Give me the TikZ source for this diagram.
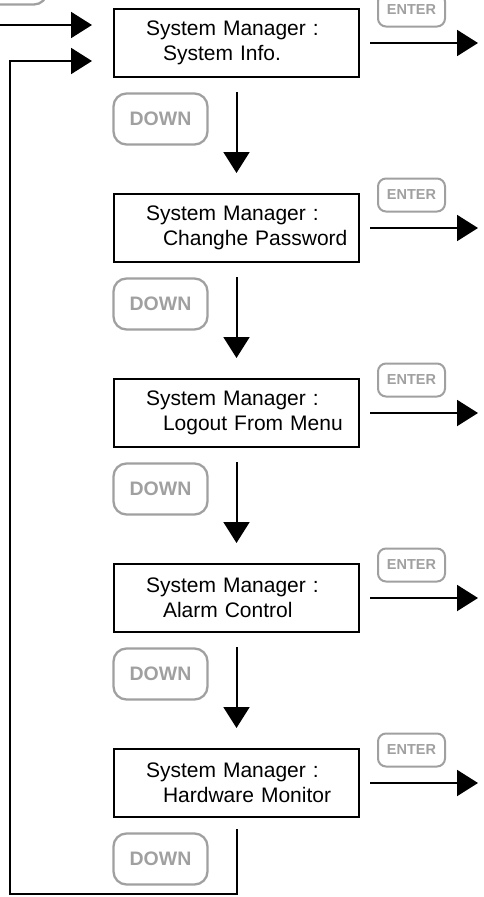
\documentclass[tikz,border=0pt]{standalone}
\usepackage{fontspec}
\setmainfont{Liberation Sans}
\definecolor{keygray}{RGB}{160, 160, 160}
\usepackage{tikz}
\usetikzlibrary{arrows.meta, positioning}

\newcommand{\menutext}[1]{\hspace*{24pt}System Manager :\\\hspace*{41pt}#1}

\begin{document}
\begin{tikzpicture}[x=1pt, y=-1pt,
  arrow/.style={-{Triangle[length=21pt, width=26pt]}, line width=2pt},
  menubox/.style={draw, line width=2pt, minimum width=245pt, minimum height=68pt, inner xsep=8pt, text width=229pt, align=left, font=\fontsize{21pt}{25pt}\selectfont},
  enterkey/.style={draw=keygray, text=keygray, line width=2pt, rounded corners=8pt, minimum width=67pt, minimum height=33pt, inner sep=0pt, font=\fontsize{14.5pt}{16pt}\selectfont\bfseries},
  downkey/.style={draw=keygray, text=keygray, line width=2.3pt, rounded corners=13pt, minimum width=94pt, minimum height=51pt, inner sep=0pt, font=\fontsize{19.5pt}{22pt}\selectfont\bfseries}
]
  \useasboundingbox (0, 0) rectangle (483, 897);

  % Key of the menu above
  \node[downkey] (prevkey) at (0, -21) {};

  % Menu items
  \node[menubox] (sysinfo) at (236.5, 43) {\menutext{System Info.}};
  \node[menubox] (passwd) at (236.5, 228) {\menutext{Changhe Password}};
  \node[menubox] (logout) at (236.5, 413) {\menutext{Logout From Menu}};
  \node[menubox] (alarm) at (236.5, 598) {\menutext{Alarm Control}};
  \node[menubox] (hwmon) at (236.5, 783) {\menutext{Hardware Monitor}};

  % ENTER keys
  \node[enterkey] (enter1) at (411.5, 10) {ENTER};
  \node[enterkey] (enter2) at (411.5, 195) {ENTER};
  \node[enterkey] (enter3) at (411.5, 380) {ENTER};
  \node[enterkey] (enter4) at (411.5, 565) {ENTER};
  \node[enterkey] (enter5) at (411.5, 750) {ENTER};

  % DOWN keys
  \node[downkey] (down1) at (160.5, 119) {DOWN};
  \node[downkey] (down2) at (160.5, 304) {DOWN};
  \node[downkey] (down3) at (160.5, 489) {DOWN};
  \node[downkey] (down4) at (160.5, 674) {DOWN};
  \node[downkey] (down5) at (160.5, 859) {DOWN};

  % Free ends
  \coordinate (in) at (0, 25);
  \coordinate (out1) at (478, 43);
  \coordinate (out2) at (478, 228);
  \coordinate (out3) at (478, 413);
  \coordinate (out4) at (478, 598);
  \coordinate (out5) at (478, 783);
  \coordinate (loop) at (10, 894);

  \draw[arrow] (in) -- ([shift={(-21pt, 18pt)}]sysinfo.west);

  \draw[arrow] ([xshift=10pt]sysinfo.east) -- (out1);
  \draw[arrow] ([xshift=10pt]passwd.east) -- (out2);
  \draw[arrow] ([xshift=10pt]logout.east) -- (out3);
  \draw[arrow] ([xshift=10pt]alarm.east) -- (out4);
  \draw[arrow] ([xshift=10pt]hwmon.east) -- (out5);

  \draw[arrow] ([yshift=-14pt]sysinfo.south) -- ([yshift=20pt]passwd.north);
  \draw[arrow] ([yshift=-14pt]passwd.south) -- ([yshift=20pt]logout.north);
  \draw[arrow] ([yshift=-14pt]logout.south) -- ([yshift=20pt]alarm.north);
  \draw[arrow] ([yshift=-14pt]alarm.south) -- ([yshift=20pt]hwmon.north);

  % Back to the first item
  \draw[arrow] ([yshift=-11pt]hwmon.south) |- (loop) |- ([shift={(-21pt, -18pt)}]sysinfo.west);
\end{tikzpicture}
\end{document}
